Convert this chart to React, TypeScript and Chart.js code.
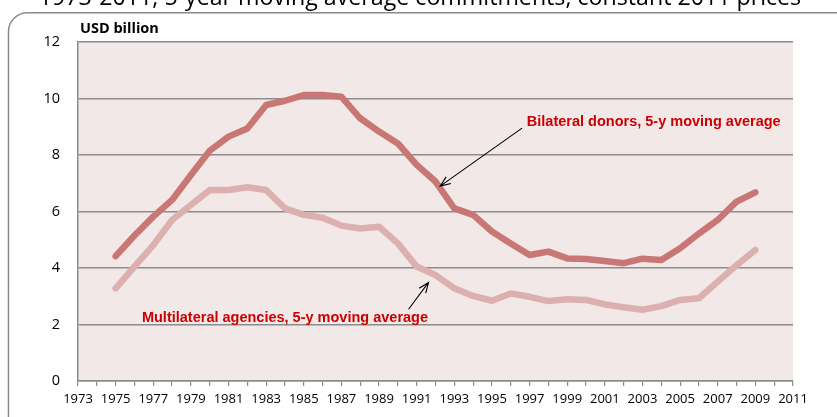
import React, { useEffect, useRef } from "react";
import { Chart, registerables } from "chart.js";

Chart.register(...registerables);

const years: string[] = [
  "1973","1974","1975","1976","1977","1978","1979","1980","1981","1982",
  "1983","1984","1985","1986","1987","1988","1989","1990","1991","1992",
  "1993","1994","1995","1996","1997","1998","1999","2000","2001","2002",
  "2003","2004","2005","2006","2007","2008","2009","2010","2011",
];

const bilateral: (number | null)[] = [
  null, null,
  4.42, 5.15, 5.82, 6.41, 7.29, 8.15, 8.65, 8.94,
  9.77, 9.92, 10.12, 10.12, 10.06, 9.3, 8.83, 8.41, 7.65, 7.06,
  6.11, 5.88, 5.29, 4.87, 4.46, 4.58, 4.34, 4.32, 4.25, 4.17,
  4.33, 4.28, 4.7, 5.22, 5.7, 6.35, 6.68,
  null, null,
];

const multilateral: (number | null)[] = [
  null, null,
  3.28, 4.05, 4.81, 5.7, 6.23, 6.76, 6.76, 6.86,
  6.76, 6.11, 5.88, 5.78, 5.5, 5.4, 5.46, 4.87, 4.05, 3.75,
  3.28, 3.01, 2.84, 3.1, 2.98, 2.83, 2.89, 2.87, 2.71, 2.61,
  2.52, 2.65, 2.87, 2.93, 3.52, 4.1, 4.64,
  null, null,
];

const titleText = "1973-2011, 5-year moving average commitments, constant 2011 prices";
const unitText = "USD billion";
const bilateralLabel = "Bilateral donors, 5-y moving average";
const multilateralLabel = "Multilateral agencies, 5-y moving average";

// annotation anchors in data units: [year, value]
const bilateralLabelAt = [2003.6, 9.17];
const bilateralArrow = [[1996.6, 8.95], [1992.25, 6.9]];
const multilateralLabelAt = [1984.0, 2.23];
const multilateralArrow = [[1990.57, 2.54], [1991.63, 3.49]];

const firstYear = 1973;

function drawArrow(ctx: CanvasRenderingContext2D, x1: number, y1: number, x2: number, y2: number) {
  const ang = Math.atan2(y2 - y1, x2 - x1);
  const len = 11;
  const spread = 0.38;
  ctx.save();
  ctx.strokeStyle = "#000";
  ctx.lineWidth = 1.1;
  ctx.beginPath();
  ctx.moveTo(x1, y1);
  ctx.lineTo(x2, y2);
  ctx.moveTo(x2 - len * Math.cos(ang - spread), y2 - len * Math.sin(ang - spread));
  ctx.lineTo(x2, y2);
  ctx.lineTo(x2 - len * Math.cos(ang + spread), y2 - len * Math.sin(ang + spread));
  ctx.stroke();
  ctx.restore();
}

const decorPlugin = {
  id: "decor",
  beforeDraw(chart: any) {
    const { ctx, chartArea } = chart;
    ctx.save();
    ctx.fillStyle = "#ffffff";
    ctx.fillRect(0, 0, chart.width, chart.height);
    // outer rounded frame
    ctx.strokeStyle = "#8a8a8a";
    ctx.lineWidth = 1.5;
    ctx.beginPath();
    (ctx as any).roundRect(8.5, 12.7, 880, 460, 19);
    ctx.stroke();
    // plot background
    ctx.fillStyle = "#F2E8E8";
    ctx.fillRect(chartArea.left, chartArea.top, chartArea.right - chartArea.left, chartArea.bottom - chartArea.top);
    ctx.restore();
  },
  afterDraw(chart: any) {
    const { ctx } = chart;
    const xs = chart.scales.x;
    const ys = chart.scales.y;
    const px = (yr: number) => xs.getPixelForValue(yr - firstYear);
    const py = (v: number) => ys.getPixelForValue(v);
    ctx.save();
    // title (cut off at top)
    ctx.fillStyle = "#000";
    ctx.font = "23.2px 'Open Sans', sans-serif";
    ctx.textAlign = "center";
    ctx.textBaseline = "alphabetic";
    ctx.fillText(titleText, 420, 4.5);
    // unit label
    ctx.font = "bold 14.5px 'Open Sans', sans-serif";
    ctx.textAlign = "left";
    ctx.textBaseline = "middle";
    ctx.fillText(unitText, 80, 29);
    // annotations
    ctx.fillStyle = "#CC0000";
    ctx.font = "bold 14.5px 'Liberation Sans', Arial, sans-serif";
    ctx.textAlign = "center";
    ctx.fillText(bilateralLabel, px(bilateralLabelAt[0]), py(bilateralLabelAt[1]));
    ctx.fillText(multilateralLabel, px(multilateralLabelAt[0]), py(multilateralLabelAt[1]));
    drawArrow(ctx, px(bilateralArrow[0][0]), py(bilateralArrow[0][1]), px(bilateralArrow[1][0]), py(bilateralArrow[1][1]));
    drawArrow(ctx, px(multilateralArrow[0][0]), py(multilateralArrow[0][1]), px(multilateralArrow[1][0]), py(multilateralArrow[1][1]));
    ctx.restore();
  },
};

export default function App() {
  const ref = useRef<HTMLCanvasElement | null>(null);
  useEffect(() => {
    if (!ref.current) return;
    const chart = new Chart(ref.current, {
      type: "line",
      data: {
        labels: years,
        datasets: [
          {
            label: "Multilateral agencies",
            data: multilateral,
            borderColor: "#DCB0AF",
            borderWidth: 6.5,
            pointRadius: 0,
            tension: 0,
            borderCapStyle: "round",
            borderJoinStyle: "round",
            spanGaps: false,
          },
          {
            label: "Bilateral donors",
            data: bilateral,
            borderColor: "#C97774",
            borderWidth: 6.5,
            pointRadius: 0,
            tension: 0,
            borderCapStyle: "round",
            borderJoinStyle: "round",
            spanGaps: false,
          },
        ],
      },
      options: {
        responsive: false,
        animation: false,
        events: [],
        layout: { padding: { left: 0, right: 44, top: 42, bottom: 0 } },
        plugins: {
          legend: { display: false },
          tooltip: { enabled: false },
          title: { display: false },
        },
        scales: {
          x: {
            type: "category",
            offset: false,
            grid: {
              display: true,
              drawOnChartArea: false,
              drawTicks: true,
              tickLength: 5,
              color: "#8c8c8c",
              lineWidth: 1.2,
            },
            border: { display: true, color: "#8c8c8c", width: 1.5 },
            ticks: {
              autoSkip: false,
              maxRotation: 0,
              minRotation: 0,
              padding: 5,
              color: "#000",
              font: { family: "'Open Sans', sans-serif", size: 13 },
              callback: (_v: any, i: number) => (i % 2 === 0 ? years[i] : ""),
            },
            afterFit: (s: any) => {
              s.height = 36;
            },
          },
          y: {
            min: 0,
            max: 12,
            grid: {
              color: "#8c8c8c",
              lineWidth: 1.5,
              drawTicks: false,
            },
            border: { display: true, color: "#8c8c8c", width: 1.5 },
            ticks: {
              stepSize: 2,
              padding: 18,
              color: "#000",
              font: { family: "'Open Sans', sans-serif", size: 14.5 },
            },
            afterFit: (s: any) => {
              s.width = 78;
            },
          },
        },
      },
      plugins: [decorPlugin],
    });
    return () => chart.destroy();
  }, []);
  return (
    <div style={{ position: "absolute", left: 0, top: 0, width: 837, height: 417 }}>
      <canvas ref={ref} width={837} height={417} style={{ display: "block" }} />
    </div>
  );
}
